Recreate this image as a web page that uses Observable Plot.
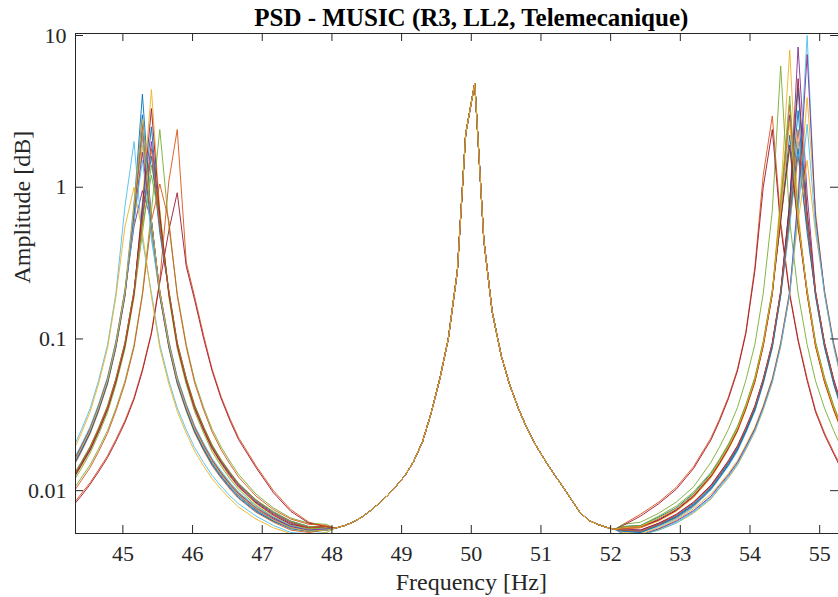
<!DOCTYPE html>
<html><head><meta charset="utf-8">
<script src="https://cdn.jsdelivr.net/npm/d3@7"></script>
<script src="https://cdn.jsdelivr.net/npm/@observablehq/plot@0.6"></script>
<style>html,body{margin:0;padding:0;background:#fff} svg{display:block}</style>
</head><body><div id="chart"></div>
<script>
const chartTitle = "PSD - MUSIC (R3, LL2, Telemecanique)";
const xLabel = "Frequency [Hz]";
const yLabel = "Amplitude [dB]";
const xTicks = [45, 46, 47, 48, 49, 50, 51, 52, 53, 54, 55];
const yTicks = [0.01, 0.1, 1, 10];
const yTickLabels = ["0.01", "0.1", "1", "10"];
const xDomain = [44.32, 55.27];
const yDomain = [0.00522, 10.31];
const xCenter = 50;
const seriesColors = ["#0072BD", "#D95319", "#EDB120", "#7E2F8E", "#77AC30", "#4DBEEE", "#A2142F"];

// frequency samples (Hz)
const leftFreq = [44.28, 44.40, 44.53, 44.65, 44.78, 44.90, 45.03, 45.16, 45.28, 45.41, 45.53, 45.66, 45.78, 45.91, 46.03, 46.16, 46.28, 46.41, 46.54, 46.66, 46.91, 47.16, 47.41, 47.67, 47.92];
const centerFreq = [48.04, 48.17, 48.29, 48.42, 48.54, 48.67, 48.80, 48.92, 49.05, 49.17, 49.30, 49.42, 49.55, 49.67, 49.80, 49.92, 50.05, 50.18, 50.30, 50.43, 50.55, 50.68, 50.80, 50.93, 51.06, 51.18, 51.31, 51.43, 51.56, 51.68, 51.81, 51.93, 52.06];
const rightFreq = [52.18, 52.43, 52.69, 52.94, 53.19, 53.44, 53.56, 53.69, 53.82, 53.94, 54.07, 54.19, 54.32, 54.44, 54.57, 54.69, 54.82, 54.94, 55.07, 55.20, 55.32];

// shared 50 Hz part (all curves coincide here)
const centerAmp = [0.00565, 0.00586, 0.00617, 0.00665, 0.0073, 0.0082, 0.0093, 0.0107, 0.0126, 0.0155, 0.021, 0.032, 0.055, 0.10, 0.28, 2.25, 4.85, 0.45, 0.151, 0.0776, 0.050, 0.0345, 0.0257, 0.0198, 0.0158, 0.0130, 0.0107, 0.0088, 0.0072, 0.0064, 0.0060, 0.00575, 0.00556];

// left sideband, one array per curve
const s1L = [0.0148, 0.0188, 0.0249, 0.0349, 0.053, 0.0916, 0.2, 0.75, 4.1, 0.6, 0.2, 0.0918, 0.0532, 0.0352, 0.0253, 0.0193, 0.0154, 0.0127, 0.0107, 0.0093, 0.0075, 0.0064, 0.0057, 0.0054, 0.0055];
const s2L = [0.0081, 0.0095, 0.0113, 0.0137, 0.0170, 0.0218, 0.029, 0.0412, 0.0632, 0.111, 0.245, 1.1, 2.4, 0.32, 0.19, 0.105, 0.0635, 0.0416, 0.0296, 0.0224, 0.0146, 0.0100, 0.0075, 0.0062, 0.0058];
const s3L = [0.0117, 0.0144, 0.0183, 0.0242, 0.0339, 0.0514, 0.0889, 0.195, 0.8, 4.4, 0.7, 0.195, 0.089, 0.0517, 0.0342, 0.0246, 0.0187, 0.0149, 0.0123, 0.0105, 0.0082, 0.0068, 0.006, 0.0056, 0.0057];
const s4L = [0.0151, 0.0192, 0.0254, 0.0356, 0.054, 0.0934, 0.204, 0.55, 0.95, 0.6, 0.204, 0.0936, 0.0543, 0.0359, 0.0258, 0.0197, 0.0157, 0.013, 0.0109, 0.0095, 0.0076, 0.0065, 0.0058, 0.0055, 0.0056];
const s5L = [0.0100, 0.0121, 0.0148, 0.0188, 0.0249, 0.0349, 0.053, 0.0917, 0.2, 0.7, 2.4, 0.55, 0.2, 0.0919, 0.0534, 0.0353, 0.0254, 0.0194, 0.0155, 0.0128, 0.0095, 0.0077, 0.0066, 0.0061, 0.006];
const s6L = [0.0188, 0.0249, 0.0348, 0.053, 0.0916, 0.2, 0.75, 2.0, 0.45, 0.2, 0.0918, 0.0532, 0.0351, 0.0252, 0.0192, 0.0153, 0.0126, 0.0107, 0.0092, 0.0082, 0.0068, 0.0059, 0.0053, 0.0052, 0.0053];
const s7L = [0.0079, 0.0092, 0.011, 0.0133, 0.0165, 0.0211, 0.0281, 0.04, 0.0613, 0.108, 0.235, 0.52, 0.92, 0.3, 0.18, 0.1, 0.0616, 0.0404, 0.0287, 0.0217, 0.0142, 0.0097, 0.0073, 0.0061, 0.0058];
const s8L = [0.0124, 0.0152, 0.0194, 0.0256, 0.0359, 0.0546, 0.0943, 0.207, 0.7, 2.5, 0.55, 0.207, 0.0946, 0.0549, 0.0364, 0.0262, 0.0199, 0.0159, 0.0131, 0.0111, 0.0087, 0.0072, 0.0063, 0.0058, 0.0058];
const s9L = [0.0141, 0.0179, 0.0237, 0.0332, 0.0504, 0.087, 0.19, 0.65, 2.2, 0.5, 0.19, 0.0872, 0.0505, 0.0334, 0.024, 0.0183, 0.0146, 0.0121, 0.0102, 0.0089, 0.0072, 0.0062, 0.0055, 0.0053, 0.0055];
const s10L = [0.0155, 0.0197, 0.0261, 0.0366, 0.0557, 0.0962, 0.21, 0.6, 1.9, 0.55, 0.21, 0.0964, 0.0559, 0.037, 0.0266, 0.0203, 0.0162, 0.0133, 0.0112, 0.0097, 0.0078, 0.0066, 0.0059, 0.0055, 0.0056];
const s11L = [0.0120, 0.0148, 0.0188, 0.0249, 0.0349, 0.053, 0.0916, 0.2, 0.6, 2.0, 0.6, 0.2, 0.0918, 0.0533, 0.0353, 0.0254, 0.0193, 0.0154, 0.0127, 0.0108, 0.0084, 0.007, 0.0061, 0.0057, 0.0058];
const s12L = [0.0113, 0.0139, 0.0177, 0.0234, 0.0328, 0.0498, 0.0861, 0.189, 0.5, 1.4, 0.7, 0.189, 0.0863, 0.0501, 0.0332, 0.0239, 0.0181, 0.0145, 0.0119, 0.0102, 0.008, 0.0067, 0.0059, 0.0056, 0.0057];
const s13L = [0.0157, 0.0199, 0.0264, 0.037, 0.0562, 0.097, 0.212, 0.8, 2.3, 0.45, 0.205, 0.0973, 0.0564, 0.0373, 0.0268, 0.0205, 0.0163, 0.0135, 0.0113, 0.0098, 0.0079, 0.0067, 0.0059, 0.0055, 0.0056];
const s14L = [0.0145, 0.0184, 0.0244, 0.0342, 0.052, 0.0898, 0.196, 0.7, 2.6, 0.6, 0.196, 0.09, 0.0521, 0.0345, 0.0248, 0.0189, 0.0151, 0.0125, 0.0105, 0.0092, 0.0074, 0.0063, 0.0057, 0.0054, 0.0055];
const s15L = [0.0122, 0.015, 0.0191, 0.0253, 0.0354, 0.0538, 0.093, 0.204, 0.65, 1.6, 0.5, 0.204, 0.0932, 0.0541, 0.0358, 0.0258, 0.0196, 0.0156, 0.0129, 0.011, 0.0085, 0.0071, 0.0062, 0.0057, 0.0058];
const s16L = [0.0096, 0.0116, 0.0142, 0.018, 0.0239, 0.0335, 0.0509, 0.088, 0.193, 0.6, 1.05, 0.6, 0.193, 0.0882, 0.0513, 0.0339, 0.0244, 0.0186, 0.0149, 0.0123, 0.0092, 0.0075, 0.0065, 0.006, 0.0059];
const s17L = [0.0179, 0.0237, 0.0331, 0.0504, 0.087, 0.19, 0.55, 1.0, 0.5, 0.19, 0.0872, 0.0505, 0.0334, 0.0239, 0.0182, 0.0145, 0.012, 0.0102, 0.0088, 0.0078, 0.0065, 0.0057, 0.0052, 0.0051, 0.0053];
const s18L = [0.0152, 0.0194, 0.0256, 0.0359, 0.0546, 0.0943, 0.206, 0.6, 1.7, 0.55, 0.206, 0.0946, 0.0548, 0.0363, 0.0261, 0.0199, 0.0159, 0.0131, 0.011, 0.0096, 0.0077, 0.0066, 0.0058, 0.0055, 0.0056];
const s19L = [0.0125, 0.0154, 0.0196, 0.0259, 0.0363, 0.0551, 0.0953, 0.209, 0.55, 1.2, 0.6, 0.209, 0.0955, 0.0554, 0.0367, 0.0264, 0.0201, 0.016, 0.0132, 0.0112, 0.0087, 0.0073, 0.0063, 0.0058, 0.0058];
const s20L = [0.0147, 0.0186, 0.0247, 0.0346, 0.0525, 0.0907, 0.199, 0.6, 1.5, 0.5, 0.199, 0.0909, 0.0527, 0.0348, 0.025, 0.0191, 0.0152, 0.0126, 0.0106, 0.0092, 0.0074, 0.0063, 0.0057, 0.0054, 0.0055];
const s21L = [0.0118, 0.0146, 0.0185, 0.0245, 0.0344, 0.0522, 0.0902, 0.198, 0.75, 3.3, 0.65, 0.198, 0.0904, 0.0525, 0.0348, 0.025, 0.019, 0.0152, 0.0125, 0.0106, 0.0083, 0.0069, 0.006, 0.0057, 0.0058];
const s22L = [0.0144, 0.0182, 0.0242, 0.0339, 0.0514, 0.0889, 0.195, 0.7, 3.0, 0.6, 0.195, 0.089, 0.0516, 0.0341, 0.0245, 0.0187, 0.0149, 0.0123, 0.0104, 0.009, 0.0073, 0.0063, 0.0056, 0.0054, 0.0055];
const s23L = [0.0122, 0.0151, 0.0192, 0.0254, 0.0356, 0.0541, 0.0934, 0.205, 0.6, 1.8, 0.55, 0.205, 0.0936, 0.0544, 0.036, 0.0259, 0.0197, 0.0157, 0.013, 0.011, 0.0086, 0.0071, 0.0062, 0.0057, 0.0058];
const s24L = [0.0149, 0.019, 0.0251, 0.0352, 0.0535, 0.0925, 0.202, 0.75, 2.8, 0.6, 0.202, 0.0927, 0.0537, 0.0356, 0.0256, 0.0195, 0.0156, 0.0128, 0.0108, 0.0094, 0.0076, 0.0064, 0.0057, 0.0054, 0.0055];

// right sideband, one array per curve
const s1R = [0.0055, 0.0054, 0.006, 0.0068, 0.0082, 0.0106, 0.0126, 0.0153, 0.0192, 0.0253, 0.0352, 0.0532, 0.0918, 0.2, 0.8, 4.5, 0.6, 0.2, 0.0916, 0.053, 0.0349];
const s2R = [0.0060, 0.0070, 0.0084, 0.0105, 0.0144, 0.0223, 0.0295, 0.0415, 0.0634, 0.111, 0.30, 1.2, 2.95, 0.6, 0.2, 0.10, 0.055, 0.034, 0.024, 0.018, 0.014];
const s3R = [0.0056, 0.0057, 0.0063, 0.0073, 0.009, 0.0122, 0.0148, 0.0187, 0.0245, 0.0341, 0.0517, 0.089, 0.195, 0.9, 8.0, 0.7, 0.195, 0.0889, 0.0514, 0.0339, 0.0243];
const s4R = [0.0056, 0.0055, 0.0061, 0.007, 0.0084, 0.0109, 0.013, 0.0158, 0.0198, 0.0261, 0.0363, 0.0548, 0.0946, 0.207, 0.75, 8.4, 0.9, 0.207, 0.0943, 0.0546, 0.036];
const s5R = [0.006, 0.0062, 0.0071, 0.0084, 0.0106, 0.0154, 0.0193, 0.0254, 0.0353, 0.0533, 0.0919, 0.2, 0.7, 6.3, 0.6, 0.2, 0.0917, 0.053, 0.0349, 0.0249, 0.0188];
const s6R = [0.0052, 0.0051, 0.0056, 0.0062, 0.0073, 0.0091, 0.0106, 0.0125, 0.0152, 0.0192, 0.0252, 0.0351, 0.0532, 0.0917, 0.2, 0.9, 10, 0.6, 0.2, 0.0916, 0.053];
const s7R = [0.0059, 0.0068, 0.0082, 0.0102, 0.014, 0.0216, 0.0286, 0.0403, 0.0615, 0.108, 0.28, 1.0, 2.4, 0.55, 0.194, 0.097, 0.053, 0.033, 0.0233, 0.0175, 0.0136];
const s8R = [0.0058, 0.0059, 0.0067, 0.0077, 0.0096, 0.013, 0.0158, 0.0199, 0.0261, 0.0363, 0.0549, 0.0946, 0.207, 0.6, 2.2, 0.6, 0.207, 0.0943, 0.0546, 0.036, 0.0258];
const s9R = [0.0054, 0.0053, 0.0059, 0.0066, 0.0079, 0.0102, 0.0121, 0.0147, 0.0184, 0.0243, 0.0338, 0.0511, 0.0881, 0.193, 0.6, 1.6, 0.55, 0.193, 0.0879, 0.0509, 0.0335];
const s10R = [0.0052, 0.0051, 0.0055, 0.0061, 0.0071, 0.0088, 0.0103, 0.0121, 0.0147, 0.0186, 0.0244, 0.034, 0.0516, 0.089, 0.195, 0.7, 3.9, 0.7, 0.195, 0.0889, 0.0514];
const s11R = [0.0057, 0.0058, 0.0065, 0.0075, 0.0093, 0.0126, 0.0153, 0.0193, 0.0253, 0.0352, 0.0533, 0.0918, 0.2, 0.7, 3.0, 0.6, 0.2, 0.0916, 0.053, 0.0349, 0.025];
const s12R = [0.0058, 0.0059, 0.0068, 0.0079, 0.0098, 0.0132, 0.0161, 0.0203, 0.0266, 0.037, 0.056, 0.0964, 0.211, 0.6, 1.8, 0.55, 0.211, 0.0962, 0.0557, 0.0366, 0.0263];
const s13R = [0.0054, 0.0053, 0.0058, 0.0065, 0.0078, 0.0101, 0.012, 0.0145, 0.0182, 0.024, 0.0334, 0.0505, 0.0872, 0.191, 0.55, 2.0, 0.65, 0.19, 0.087, 0.0504, 0.0332];
const s14R = [0.0055, 0.0055, 0.0061, 0.0069, 0.0084, 0.0108, 0.0129, 0.0156, 0.0196, 0.0258, 0.0359, 0.0543, 0.0936, 0.205, 0.8, 5.2, 0.7, 0.205, 0.0934, 0.0541, 0.0356];
const s15R = [0.0055, 0.0054, 0.006, 0.0067, 0.0081, 0.0104, 0.0124, 0.0151, 0.0189, 0.0249, 0.0347, 0.0524, 0.0904, 0.198, 0.65, 1.8, 0.5, 0.198, 0.0902, 0.0522, 0.0344];
const s16R = [0.0056, 0.0057, 0.0064, 0.0074, 0.0091, 0.0123, 0.015, 0.0189, 0.0248, 0.0345, 0.0522, 0.09, 0.197, 0.75, 3.5, 0.6, 0.197, 0.0898, 0.0519, 0.0342, 0.0245];
const s17R = [0.0053, 0.0052, 0.0057, 0.0064, 0.0076, 0.0095, 0.011, 0.013, 0.0158, 0.02, 0.0262, 0.0365, 0.0553, 0.0954, 0.209, 0.6, 1.5, 0.5, 0.209, 0.0953, 0.0551];
const s18R = [0.0052, 0.0051, 0.0056, 0.0063, 0.0074, 0.0092, 0.0108, 0.0127, 0.0154, 0.0195, 0.0256, 0.0356, 0.054, 0.0931, 0.204, 0.8, 7.5, 0.65, 0.204, 0.093, 0.0538];
const s19R = [0.0057, 0.0058, 0.0066, 0.0076, 0.0095, 0.0128, 0.0156, 0.0197, 0.0258, 0.0359, 0.0544, 0.0936, 0.205, 0.8, 4.0, 0.6, 0.205, 0.0934, 0.0541, 0.0356, 0.0255];
const s20R = [0.0052, 0.0051, 0.0055, 0.0061, 0.0072, 0.0089, 0.0104, 0.0123, 0.0149, 0.0188, 0.0247, 0.0344, 0.0521, 0.0899, 0.197, 0.7, 2.6, 0.55, 0.197, 0.0898, 0.0519];
const s21R = [0.0057, 0.0058, 0.0064, 0.0074, 0.0092, 0.0125, 0.0151, 0.0191, 0.025, 0.0348, 0.0528, 0.0909, 0.199, 0.6, 1.9, 0.55, 0.199, 0.0907, 0.0525, 0.0346, 0.0248];
const s22R = [0.0054, 0.0053, 0.0059, 0.0067, 0.008, 0.0103, 0.0122, 0.0148, 0.0186, 0.0245, 0.0341, 0.0516, 0.089, 0.195, 0.7, 3.2, 0.6, 0.195, 0.0889, 0.0514, 0.0339];
const s23R = [0.0055, 0.0054, 0.006, 0.0069, 0.0083, 0.0107, 0.0127, 0.0155, 0.0194, 0.0256, 0.0356, 0.0537, 0.0927, 0.203, 0.65, 2.4, 0.6, 0.203, 0.0925, 0.0535, 0.0352];
const s24R = [0.0057, 0.0058, 0.0066, 0.0076, 0.0094, 0.0127, 0.0155, 0.0195, 0.0256, 0.0356, 0.0538, 0.0927, 0.203, 0.7, 2.7, 0.6, 0.203, 0.0925, 0.0535, 0.0352, 0.0253];

const seriesLeft = [s1L, s2L, s3L, s4L, s5L, s6L, s7L, s8L, s9L, s10L, s11L, s12L, s13L, s14L, s15L, s16L, s17L, s18L, s19L, s20L, s21L, s22L, s23L, s24L];
const seriesRight = [s1R, s2R, s3R, s4R, s5R, s6R, s7R, s8R, s9R, s10R, s11R, s12R, s13R, s14R, s15R, s16R, s17R, s18R, s19R, s20R, s21R, s22R, s23R, s24R];

const rows = [];
seriesLeft.forEach((L, i) => {
  const R = seriesRight[i];
  leftFreq.forEach((f, j) => rows.push({s: i, f, a: L[j]}));
  centerFreq.forEach((f, j) => rows.push({s: i, f, a: centerAmp[j]}));
  rightFreq.forEach((f, j) => rows.push({s: i, f, a: R[j]}));
});
const seriesIds = seriesLeft.map((_, i) => i);

const font = "'Liberation Serif', 'Times New Roman', Times, serif";
const ink = "#262626";
const W = 838, H = 597, mL = 75, mR = 0, mT = 33, mB = 64, tickLen = 8;

const chart = Plot.plot({
  width: W, height: H,
  marginLeft: mL, marginRight: mR, marginTop: mT, marginBottom: mB,
  style: {fontFamily: font, background: "#fff", color: ink},
  x: {type: "linear", domain: xDomain, axis: null},
  y: {type: "log", domain: yDomain, axis: null},
  color: {type: "ordinal", domain: seriesIds, range: seriesIds.map(i => seriesColors[i % seriesColors.length])},
  marks: [
    Plot.line(rows, {x: "f", y: "a", z: "s", stroke: "s", strokeWidth: 0.9, clip: true}),
    Plot.ruleX([xDomain[0]], {stroke: ink, strokeWidth: 1}),
    Plot.ruleY([yDomain[0], yDomain[1]], {stroke: ink, strokeWidth: 1}),
    Plot.ruleX(xTicks, {x: d => d, stroke: ink, insetTop: H - mT - mB - tickLen}),
    Plot.ruleX(xTicks, {x: d => d, stroke: ink, insetBottom: H - mT - mB - tickLen}),
    Plot.ruleY(yTicks, {y: d => d, stroke: ink, insetRight: W - mL - mR - tickLen}),
    Plot.ruleY(yTicks, {y: d => d, stroke: ink, insetLeft: W - mL - mR - tickLen}),
    Plot.text(xTicks, {x: d => d, text: d => String(d), frameAnchor: "bottom", lineAnchor: "middle", dy: 20, fontSize: 22, fill: ink}),
    Plot.text(yTicks, {y: d => d, text: (d, i) => yTickLabels[i], frameAnchor: "left", lineAnchor: "middle", dx: -9, textAnchor: "end", fontSize: 22, fill: ink}),
    Plot.text([xLabel], {x: () => xCenter, text: d => d, frameAnchor: "bottom", lineAnchor: "middle", dy: 49, fontSize: 24, fill: ink}),
    Plot.text([yLabel], {text: d => d, frameAnchor: "left", lineAnchor: "middle", dx: -53, rotate: -90, fontSize: 24, fill: ink}),
    Plot.text([chartTitle], {x: () => xCenter, text: d => d, frameAnchor: "top", lineAnchor: "middle", dy: -16, fontSize: 25, fontWeight: "bold", fill: "#000"})
  ]
});
document.getElementById("chart").appendChild(chart);
</script>
</body></html>
